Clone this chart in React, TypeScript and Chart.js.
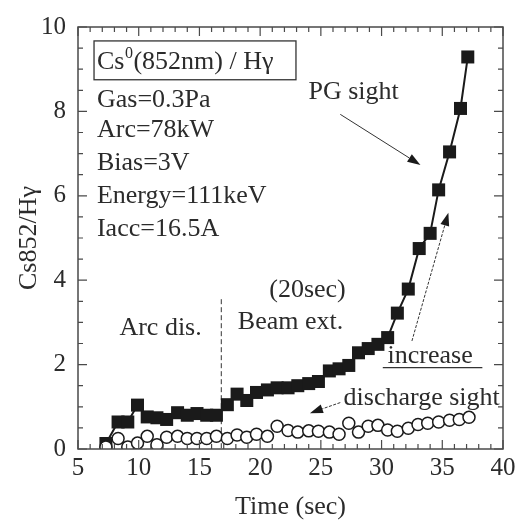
import React, { useEffect, useRef } from "react";
import { Chart, registerables } from "chart.js";

Chart.register(...registerables);

const pgTimes = [7.3, 8.3, 9.1, 9.9, 10.7, 11.5, 12.3, 13.2, 14.0, 14.8, 15.6, 16.4, 17.3, 18.1, 18.9, 19.7, 20.6, 21.4, 22.3, 23.1, 24.0, 24.8, 25.7, 26.5, 27.3, 28.1, 28.9, 29.7, 30.5, 31.3, 32.2, 33.1, 34.0, 34.7, 35.6, 36.5, 37.1];
const pgSight = [0.13, 0.64, 0.64, 1.04, 0.76, 0.74, 0.70, 0.86, 0.80, 0.84, 0.80, 0.80, 1.05, 1.30, 1.15, 1.34, 1.40, 1.45, 1.45, 1.50, 1.55, 1.60, 1.85, 1.90, 1.98, 2.28, 2.38, 2.48, 2.64, 3.22, 3.79, 4.75, 5.11, 6.14, 7.04, 8.07, 9.29];

const dischargeTimes = [7.3, 8.3, 9.1, 9.9, 10.7, 11.5, 12.3, 13.2, 14.0, 14.8, 15.6, 16.4, 17.3, 18.1, 18.9, 19.7, 20.6, 21.4, 22.3, 23.1, 24.0, 24.8, 25.7, 26.5, 27.3, 28.1, 28.9, 29.7, 30.5, 31.3, 32.2, 33.0, 33.8, 34.7, 35.6, 36.4, 37.2];
const dischargeSight = [0.05, 0.25, 0.05, 0.14, 0.30, 0.10, 0.28, 0.30, 0.25, 0.25, 0.25, 0.30, 0.25, 0.33, 0.28, 0.35, 0.30, 0.54, 0.44, 0.40, 0.43, 0.42, 0.40, 0.35, 0.61, 0.40, 0.54, 0.56, 0.45, 0.42, 0.49, 0.58, 0.61, 0.64, 0.68, 0.70, 0.75];

const xTickStep = 5;
const yTickStep = 2;

const conditions = ["Gas=0.3Pa", "Arc=78kW", "Bias=3V", "Energy=111keV", "Iacc=16.5A"];

const FONT = "'Liberation Serif', 'Times New Roman', Times, 'DejaVu Serif', serif";
const TEXT = "#2b2b2b";
const AXIS = "#4a4a4a";

function arrow(ctx: CanvasRenderingContext2D, x1: number, y1: number, x2: number, y2: number, dashed: boolean) {
  const ang = Math.atan2(y2 - y1, x2 - x1);
  const hl = 13, hw = 4.5;
  const bx = x2 - hl * Math.cos(ang), by = y2 - hl * Math.sin(ang);
  ctx.save();
  ctx.strokeStyle = "#333";
  ctx.lineWidth = 1;
  if (dashed) ctx.setLineDash([3, 1.5]);
  ctx.beginPath();
  ctx.moveTo(x1, y1);
  ctx.lineTo(bx, by);
  ctx.stroke();
  ctx.setLineDash([]);
  ctx.fillStyle = "#1a1a1a";
  ctx.beginPath();
  ctx.moveTo(x2, y2);
  ctx.lineTo(bx + hw * Math.sin(ang), by - hw * Math.cos(ang));
  ctx.lineTo(bx - hw * Math.sin(ang), by + hw * Math.cos(ang));
  ctx.closePath();
  ctx.fill();
  ctx.restore();
}

const decorPlugin = {
  id: "decor",
  beforeDatasetsDraw(chart: any) {
    const { ctx, scales } = chart;
    const xs = scales.x, ys = scales.y;
    const X = (v: number) => xs.getPixelForValue(v);
    const Y = (v: number) => ys.getPixelForValue(v);
    ctx.save();
    ctx.strokeStyle = "#333";
    ctx.lineWidth = 1;
    ctx.setLineDash([5, 3]);
    ctx.beginPath();
    ctx.moveTo(X(16.8), Y(3.55));
    ctx.lineTo(X(16.8), Y(0));
    ctx.stroke();
    ctx.setLineDash([]);
    ctx.restore();
  },
  afterDraw(chart: any) {
    const { ctx, chartArea: ca, scales } = chart;
    const xs = scales.x, ys = scales.y;
    const X = (v: number) => xs.getPixelForValue(v);
    const Y = (v: number) => ys.getPixelForValue(v);
    ctx.save();
    ctx.strokeStyle = AXIS;
    ctx.lineWidth = 1.5;
    ctx.strokeRect(ca.left, ca.top, ca.right - ca.left, ca.bottom - ca.top);
    ctx.lineWidth = 1.2;
    ctx.beginPath();
    for (let v = 5; v <= 40 + 1e-9; v += 1) {
      const len = v % 5 === 0 ? 9 : 5;
      const px = X(v);
      ctx.moveTo(px, ca.bottom);
      ctx.lineTo(px, ca.bottom - len);
      ctx.moveTo(px, ca.top);
      ctx.lineTo(px, ca.top + len);
    }
    for (let v = 0; v <= 10 + 1e-9; v += 0.5) {
      const len = Math.abs(v % 2) < 1e-9 ? 9 : 5;
      const py = Y(v);
      ctx.moveTo(ca.left, py);
      ctx.lineTo(ca.left + len, py);
      ctx.moveTo(ca.right, py);
      ctx.lineTo(ca.right - len, py);
    }
    ctx.stroke();

    ctx.fillStyle = TEXT;
    ctx.font = `26px ${FONT}`;
    ctx.textAlign = "center";
    ctx.textBaseline = "middle";
    ctx.fillText("Time (sec)", (ca.left + ca.right) / 2, 507);
    ctx.save();
    ctx.translate(29, (ca.top + ca.bottom) / 2);
    ctx.rotate(-Math.PI / 2);
    ctx.fillText("Cs852/H\u03b3", 0, 0);
    ctx.restore();

    const bx1 = X(6.32), bx2 = X(22.95), by1 = Y(9.67), by2 = Y(8.75);
    ctx.lineWidth = 1.3;
    ctx.strokeStyle = "#333";
    ctx.strokeRect(bx1, by1, bx2 - bx1, by2 - by1);
    ctx.textAlign = "left";
    ctx.textBaseline = "alphabetic";
    let tx = X(6.56);
    const base = (by1 + by2) / 2 + 9;
    ctx.font = `26px ${FONT}`;
    ctx.fillText("Cs", tx, base);
    tx += ctx.measureText("Cs").width;
    ctx.font = `16px ${FONT}`;
    ctx.fillText("0", tx + 0.5, base - 11);
    tx += ctx.measureText("0").width + 1;
    ctx.font = `26px ${FONT}`;
    ctx.fillText("(852nm) / H\u03b3", tx, base);

    ctx.textBaseline = "middle";
    const condY = [8.26, 7.55, 6.78, 5.98, 5.2];
    conditions.forEach((c, i) => ctx.fillText(c, X(6.56), Y(condY[i])));

    ctx.textAlign = "center";
    ctx.fillText("PG sight", X(27.7), Y(8.45));
    ctx.fillText("(20sec)", X(23.9), Y(3.76));
    ctx.fillText("Beam ext.", X(22.5), Y(3.01));
    ctx.fillText("Arc dis.", X(11.8), Y(2.87));
    ctx.fillText("increase", X(34.0), Y(2.21));
    ctx.fillText("discharge sight", X(33.3), Y(1.2));
    ctx.lineWidth = 1.2;
    ctx.strokeStyle = "#333";
    ctx.beginPath();
    ctx.moveTo(X(30.1), Y(1.93));
    ctx.lineTo(X(38.3), Y(1.93));
    ctx.stroke();

    arrow(ctx, X(26.6), Y(7.93), X(33.2), Y(6.73), false);
    arrow(ctx, X(32.5), Y(2.56), X(35.5), Y(5.6), true);
    arrow(ctx, X(26.6), Y(1.1), X(24.1), Y(0.85), true);
    ctx.restore();
  },
};

export default function App() {
  const ref = useRef<HTMLCanvasElement | null>(null);
  useEffect(() => {
    document.body.style.margin = "0";
    const canvas = ref.current!;
    const chart = new Chart(canvas, {
      type: "scatter",
      data: {
        datasets: [
          {
            label: "discharge sight",
            data: dischargeTimes.map((t, i) => ({ x: t, y: dischargeSight[i] })),
            showLine: false,
            pointStyle: "circle",
            pointRadius: 6,
            pointBorderWidth: 1.5,
            pointBackgroundColor: "#ffffff",
            pointBorderColor: "#1a1a1a",
          },
          {
            label: "PG sight",
            data: pgTimes.map((t, i) => ({ x: t, y: pgSight[i] })),
            showLine: true,
            borderColor: "#1a1a1a",
            borderWidth: 2,
            pointStyle: "rect",
            pointRadius: 9.2,
            pointBorderWidth: 0,
            pointBackgroundColor: "#1a1a1a",
            pointBorderColor: "#1a1a1a",
          },
        ],
      },
      options: {
        animation: false,
        responsive: false,
        devicePixelRatio: 1,
        layout: { padding: { top: 24, right: 20, bottom: 0, left: 0 } },
        plugins: { legend: { display: false }, tooltip: { enabled: false } },
        scales: {
          x: {
            type: "linear",
            min: 5,
            max: 40,
            grid: { display: false, drawTicks: false },
            border: { display: false },
            ticks: { stepSize: xTickStep, color: TEXT, font: { family: FONT, size: 25 }, padding: 4, maxRotation: 0 },
            afterFit: (s: any) => { s.height = 73; },
          },
          y: {
            type: "linear",
            min: 0,
            max: 10,
            grid: { display: false, drawTicks: false },
            border: { display: false },
            ticks: { stepSize: yTickStep, color: TEXT, font: { family: FONT, size: 25 }, padding: 12 },
            afterFit: (s: any) => { s.width = 78; },
          },
        },
      },
      plugins: [decorPlugin],
    } as any);
    return () => chart.destroy();
  }, []);
  return (
    <div style={{ position: "fixed", left: 0, top: 0, width: 523, height: 522, background: "#fff" }}>
      <canvas ref={ref} width={523} height={522} style={{ width: 523, height: 522 }} />
    </div>
  );
}
